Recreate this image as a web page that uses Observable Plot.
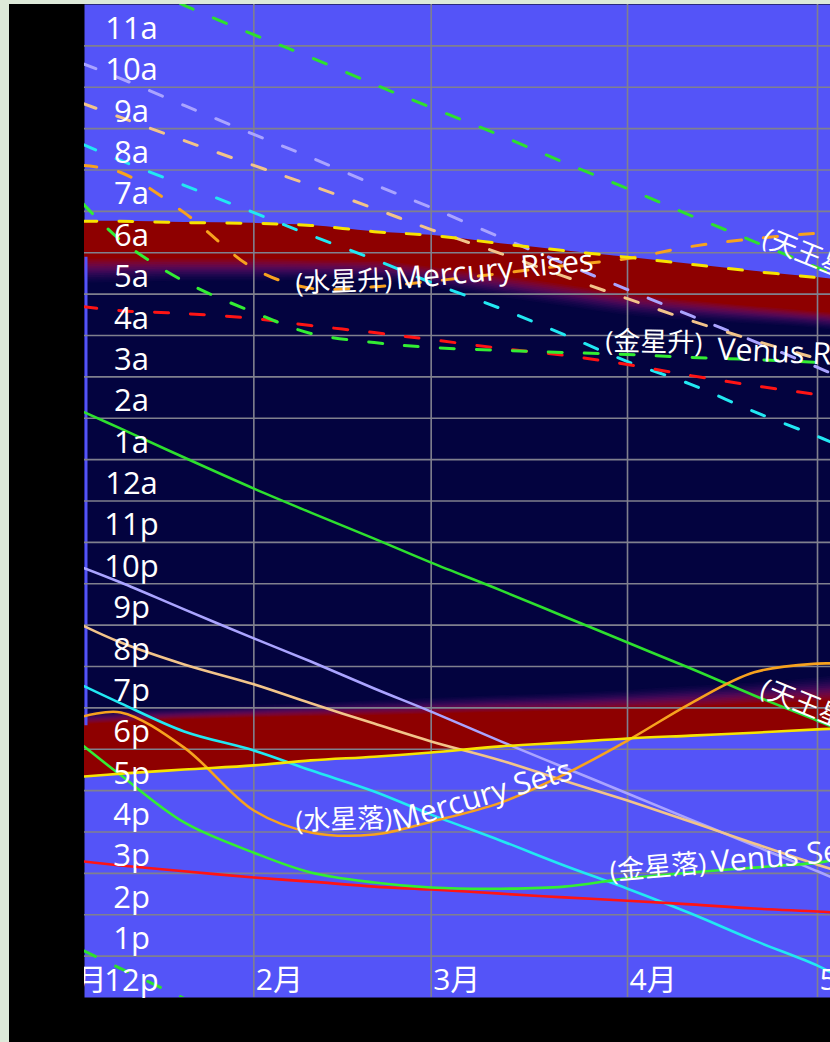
<!DOCTYPE html>
<html><head><meta charset="utf-8">
<script src="https://cdn.jsdelivr.net/npm/d3@7"></script>
<script src="https://cdn.jsdelivr.net/npm/@observablehq/plot@0.6"></script>
<style>
html,body{margin:0;padding:0;background:#dde9d9;overflow:hidden;width:830px;height:1042px;}
#frame{position:absolute;left:9px;top:4px;width:821px;height:1038px;background:#000;overflow:hidden;}
#frame svg{display:block;}
</style></head><body><div id="frame"></div>
<script>
// day of year (0 = 1月1日), clock hours (0–24)
const days = [4, 10, 20, 31, 40, 50, 59, 70, 80, 90, 100, 110, 120, 123];

const sunset       = [17.34, 17.41, 17.51, 17.61, 17.73, 17.82, 17.92, 18.07, 18.16, 18.26, 18.33, 18.40, 18.48, 18.50];
const duskRedEnd   = [18.57, 18.62, 18.69, 18.74, 18.77, 18.79, 18.82, 18.86, 18.89, 18.94, 18.98, 19.06, 19.11, 19.13];
const duskEnd      = [18.91, 18.96, 19.01, 19.06, 19.11, 19.18, 19.23, 19.30, 19.35, 19.42, 19.52, 19.61, 19.73, 19.78];
const dawnStart    = [5.26, 5.28, 5.31, 5.31, 5.33, 5.31, 5.14, 4.92, 4.70, 4.48, 4.36, 4.27, 4.17, 4.12];
const dawnRedStart = [5.89, 5.89, 5.89, 5.89, 5.86, 5.84, 5.69, 5.47, 5.26, 5.04, 4.87, 4.73, 4.60, 4.56];
const sunrise      = [6.76, 6.76, 6.73, 6.71, 6.66, 6.51, 6.42, 6.22, 6.05, 5.89, 5.72, 5.55, 5.40, 5.35];

const mercuryRise = [8.11, 7.94, 6.97, 5.62, 5.14, 5.18, 5.31, 5.50, 5.69, 5.86, 6.15, 6.34, 6.47, 6.49];
const mercurySet  = [18.79, 18.89, 18.04, 16.52, 15.99, 15.94, 16.25, 16.71, 17.39, 18.21, 19.11, 19.86, 20.07, 20.07];
const venusRise   = [7.19, 6.30, 5.31, 4.56, 4.05, 3.83, 3.71, 3.64, 3.59, 3.54, 3.47, 3.42, 3.35, 3.32];
const venusSet    = [18.09, 17.37, 16.23, 15.50, 15.02, 14.78, 14.66, 14.63, 14.68, 14.88, 15.02, 15.14, 15.26, 15.34];
const marsRise    = [4.70, 4.60, 4.53, 4.41, 4.24, 4.07, 3.90, 3.69, 3.52, 3.30, 3.03, 2.79, 2.57, 2.50];
const marsSet     = [15.29, 15.19, 15.05, 14.90, 14.80, 14.68, 14.61, 14.51, 14.42, 14.34, 14.25, 14.15, 14.08, 14.05];
const jupiterRise = [9.61, 9.27, 8.71, 8.11, 7.63, 7.07, 6.56, 5.98, 5.43, 4.89, 4.36, 3.88, 3.44, 3.30];
const jupiterSet  = [20.99, 20.58, 20.05, 19.57, 19.11, 18.62, 18.19, 17.73, 17.24, 16.76, 16.25, 15.72, 15.21, 15.07];
const saturnRise  = [8.62, 8.23, 7.63, 6.97, 6.42, 5.84, 5.28, 4.65, 4.02, 3.37, 2.82, 2.16, 1.56, 1.37];
const saturnSet   = [19.54, 19.11, 18.43, 17.97, 17.49, 16.98, 16.42, 15.79, 15.19, 14.63, 14.03, 13.38, 12.77, 12.53];
const uranusRise  = [13.14, 12.70, 11.98, 11.27, 10.72, 10.07, 9.51, 8.83, 8.18, 7.55, 6.90, 6.27, 5.64, 5.45];
const uranusSet   = [2.16, 1.75, 1.05, 0.30, 23.72, 23.09, 22.51, 21.84, 21.21, 20.58, 19.95, 19.30, 18.69, 18.50];
const neptuneRise = [10.57, 10.21, 9.56, 8.86, 8.30, 7.65, 7.09, 6.37, 5.74, 5.11, 4.48, 3.86, 3.23, 3.03];
const neptuneSet  = [22.39, 22.03, 21.38, 20.68, 20.12, 19.47, 18.91, 18.19, 17.56, 16.93, 16.30, 15.67, 15.05, 14.85];

const monthDays   = [0, 31, 59, 90, 120];
const monthLabels = ["1月", "2月", "3月", "4月", "5月"];
const hourTicks   = d3.range(12, 36);
const hourLabels  = hourTicks.map(h => { const c = h % 24; return c === 0 ? "12a" : c === 12 ? "12p" : c < 12 ? c + "a" : (c - 12) + "p"; });

// curve labels: Chinese part and English part
const cjkText   = ["(水星升)", "(金星升)", "(天王星升)", "(天王星落)", "(水星落)", "(金星落)"];
const cjkDay    = [37.6, 86.5, 111.0, 110.7, 37.6, 87.3];
const cjkHour   = [5.04, 3.64, 6.18, 19.30, 16.04, 14.83];
const cjkAngle  = [-2, 1, 22, 22, -2, -5];
const enText    = ["Mercury Rises", "Venus Rises", "Mercury Sets", "Venus Sets"];
const enDay     = [53.5, 104.1, 53.5, 103.4];
const enHour    = [5.11, 3.42, 16.01, 15.02];
const enAngle   = [-5.5, 2.5, -16.5, -5];

// ---- helpers
const toT = h => (h < 12 ? h + 24 : h);
function unwrap(arr) {
  const out = []; let prev;
  for (const h of arr) {
    let t = toT(h);
    if (prev !== undefined) { while (t - prev > 12) t -= 24; while (prev - t > 12) t += 24; }
    out.push(t); prev = t;
  }
  return out;
}
function rows(arr) {
  const t = unwrap(arr), out = [];
  for (const off of [-24, 0, 24]) days.forEach((d, i) => out.push({day: d, t: t[i] + off, k: off}));
  return out;
}

const BLUE = "#5454f8", RED = "#8e0000", NAVY = "#03033f", GRID = "#80808e";
const ramp = d3.interpolateRgbBasis([RED, "#780742", "#470a5e", "#17064c", NAVY]);

const sky = days.map((d, i) => ({
  day: d, set: sunset[i], redEnd: duskRedEnd[i], dEnd: duskEnd[i],
  dStart: dawnStart[i] + 24, dRed: dawnRedStart[i] + 24, rise: sunrise[i] + 24
}));

const N = 14;
const bands = d3.range(1, N + 1).map(k => Plot.areaY(sky, {
  x: "day",
  y1: d => d.redEnd + (d.dEnd - d.redEnd) * k / N,
  y2: d => d.dRed + (d.dStart - d.dRed) * k / N,
  fill: ramp(k / N), curve: "monotone-x", clip: true
}));

const series = [
  {rise: neptuneRise, set: neptuneSet, color: "#aaa4ff"},
  {rise: jupiterRise, set: jupiterSet, color: "#f2c48a"},
  {rise: saturnRise, set: saturnSet, color: "#22e8f2"},
  {rise: marsRise, set: marsSet, color: "#ff1414"},
  {rise: uranusRise, set: uranusSet, color: "#2ee02e"},
  {rise: venusRise, set: venusSet, color: "#33ee33"},
  {rise: mercuryRise, set: mercurySet, color: "#f7a21e"},
  {rise: sunrise, set: sunset, color: "#f7e400"}
];
const lineMarks = [];
for (const s of series) {
  lineMarks.push(Plot.line(rows(s.rise), {x: "day", y: "t", z: "k", stroke: s.color, strokeWidth: 3, strokeDasharray: "14,22", curve: "catmull-rom", clip: true}));
  lineMarks.push(Plot.line(rows(s.set), {x: "day", y: "t", z: "k", stroke: s.color, strokeWidth: 2.6, curve: "catmull-rom", clip: true}));
}

const cjkLabels = cjkText.map((text, i) => ({text, day: cjkDay[i], t: toT(cjkHour[i]), angle: cjkAngle[i]}));
const enLabels  = enText.map((text, i) => ({text, day: enDay[i], t: toT(enHour[i]), angle: enAngle[i]}));
const FONT = "'Open Sans', 'Noto Sans CJK SC', sans-serif";

const chart = Plot.plot({
  width: 821, height: 1038,
  marginLeft: 75, marginRight: 0, marginTop: 0, marginBottom: 45,
  x: {domain: [4.263, 122.05], axis: null},
  y: {domain: [12, 36], axis: null},
  style: {background: "black", fontFamily: FONT},
  marks: [
    Plot.frame({fill: BLUE, stroke: null}),
    Plot.areaY(sky, {x: "day", y1: "set", y2: "rise", fill: RED, curve: "monotone-x", clip: true}),
    ...bands,
    Plot.ruleX([4.263], {y1: duskRedEnd[0], y2: dawnRedStart[0] + 24, stroke: BLUE, strokeWidth: 3, dx: 1.5}),
    Plot.ruleY(hourTicks.slice(1), {stroke: GRID, strokeWidth: 1.6}),
    Plot.ruleX(monthDays, {stroke: GRID, strokeWidth: 1.6, clip: true}),
    ...lineMarks,
    Plot.text(hourTicks, {y: d => d, text: (d, i) => hourLabels[i], frameAnchor: "left", dx: 47, dy: -7,
      textAnchor: "middle", lineAnchor: "bottom", fill: "white", fontSize: 31}),
    Plot.text(monthDays, {x: d => d, text: (d, i) => monthLabels[i], frameAnchor: "bottom", dx: 2, dy: -8,
      textAnchor: "start", lineAnchor: "bottom", fill: "white", fontSize: 30, clip: true}),
    Plot.text(cjkLabels, {x: "day", y: "t", text: "text", rotate: "angle", textAnchor: "start", lineAnchor: "bottom",
      fill: "white", fontSize: 27, clip: true}),
    Plot.text(enLabels, {x: "day", y: "t", text: "text", rotate: "angle", textAnchor: "start", lineAnchor: "bottom",
      fill: "white", fontSize: 30.5, clip: true})
  ]
});
document.getElementById("frame").appendChild(chart);
</script>
</body></html>
